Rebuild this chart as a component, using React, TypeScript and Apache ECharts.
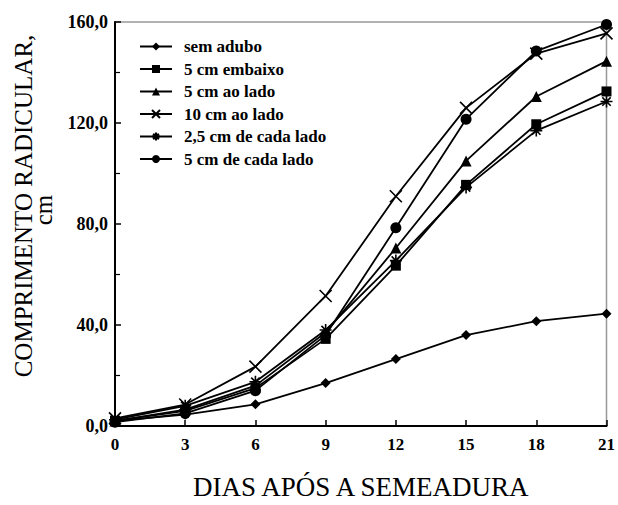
import React, { useEffect, useRef } from "react";
import * as echarts from "echarts";

const days = [0, 3, 6, 9, 12, 15, 18, 21];
const semAdubo = [2, 4.5, 8.6, 17, 26.5, 36, 41.5, 44.5];
const cmEmbaixo5 = [2, 6, 15, 34.5, 63.5, 95.5, 119.5, 132.5];
const cmAoLado5 = [2, 6.5, 16, 37, 70.5, 105, 130.5, 144.5];
const cmAoLado10 = [3, 8.5, 23.5, 51.5, 91, 126, 147.5, 155.5];
const cmCadaLado25 = [2.5, 8, 17.5, 38, 65.5, 94.5, 117, 128.5];
const cmCadaLado5 = [1.5, 5, 14, 36, 78.5, 121.5, 148.5, 159];
const yTicks = [0, 40, 80, 120, 160];

const seriesNames = [
  "sem adubo",
  "5 cm embaixo",
  "5 cm ao lado",
  "10 cm ao lado",
  "2,5 cm de cada lado",
  "5 cm de cada lado",
];
const yTitle1 = "COMPRIMENTO RADICULAR,";
const yTitle2 = "cm";
const xTitle = "DIAS APÓS A SEMEADURA";

const FONT = "'Liberation Serif', 'DejaVu Serif', serif";
const X_PATH = "path://M0,0L10,10M10,0L0,10";
const AST_PATH = "path://M0,5L10,5M5,0L5,10M1.5,1.5L8.5,8.5M8.5,1.5L1.5,8.5";

export default function App() {
  const ref = useRef<HTMLDivElement>(null);
  useEffect(() => {
    if (!ref.current) return;
    const chart = echarts.init(ref.current, null, { renderer: "svg" });
    const dataSets = [semAdubo, cmEmbaixo5, cmAoLado5, cmAoLado10, cmCadaLado25, cmCadaLado5];
    const symbols = ["diamond", "rect", "triangle", X_PATH, AST_PATH, "circle"];
    const sizes = [10, 10, 11, 12, 12, 11];
    const series = dataSets.map((d, i) => {
      const stroked = i === 3 || i === 4;
      return {
        type: "line",
        name: seriesNames[i],
        data: d.map((v, j) => [days[j], v]),
        symbol: symbols[i],
        symbolSize: sizes[i],
        showAllSymbol: true,
        lineStyle: { color: "#000", width: 1.8 },
        itemStyle: stroked
          ? { color: "rgba(0,0,0,0)", borderColor: "#000", borderWidth: 1.6 }
          : { color: "#000", borderColor: "#000", borderWidth: 0 },
        z: 3,
      };
    });
    chart.setOption({
      animation: false,
      textStyle: { fontFamily: FONT },
      grid: {
        left: 115,
        right: 8,
        top: 22,
        bottom: 73,
        show: true,
        borderColor: "#999",
        borderWidth: 1.5,
      },
      legend: {
        orient: "vertical",
        left: 134,
        top: 33,
        itemWidth: 32,
        itemHeight: 10,
        itemGap: 5.5,
        data: seriesNames,
        textStyle: {
          fontFamily: FONT,
          fontWeight: "bold",
          fontSize: 17,
          color: "#000",
          padding: [0, 0, 0, 7],
        },
      },
      graphic: [
        {
          type: "text",
          x: 23,
          y: 206,
          rotation: Math.PI / 2,
          style: {
            text: yTitle1,
            fontFamily: FONT,
            fontSize: 25,
            fill: "#000",
            align: "center",
            verticalAlign: "middle",
          },
        },
        {
          type: "text",
          x: 43,
          y: 210,
          rotation: Math.PI / 2,
          style: {
            text: yTitle2,
            fontFamily: FONT,
            fontSize: 25,
            fill: "#000",
            align: "center",
            verticalAlign: "middle",
          },
        },
      ],
      xAxis: {
        type: "value",
        min: 0,
        max: 21,
        interval: 3,
        name: xTitle,
        nameLocation: "middle",
        nameGap: 47,
        nameTextStyle: { fontFamily: FONT, fontSize: 27, color: "#000" },
        axisLine: { show: true, lineStyle: { color: "#000", width: 2 } },
        axisTick: { show: true, inside: true, length: 6, lineStyle: { color: "#000", width: 1.5 } },
        axisLabel: {
          fontFamily: FONT,
          fontWeight: "bold",
          fontSize: 17,
          color: "#000",
          margin: 10,
        },
        splitLine: { show: false },
      },
      yAxis: {
        type: "value",
        min: 0,
        max: 160,
        interval: 40,
        axisLine: { show: true, lineStyle: { color: "#000", width: 2 } },
        axisTick: { show: true, inside: true, length: 6, lineStyle: { color: "#000", width: 1.5 } },
        minorTick: { show: true, splitNumber: 2, length: 5, lineStyle: { color: "#000", width: 1.2 } },
        axisLabel: {
          fontFamily: FONT,
          fontWeight: "bold",
          fontSize: 18,
          color: "#000",
          margin: 7,
          formatter: (v: number) => (yTicks.includes(v) ? v.toFixed(1).replace(".", ",") : ""),
        },
        splitLine: { show: false },
      },
      series,
    });
    return () => chart.dispose();
  }, []);
  return (
    <div
      ref={ref}
      style={{ position: "absolute", left: 0, top: 0, width: 618, height: 505 }}
    />
  );
}
